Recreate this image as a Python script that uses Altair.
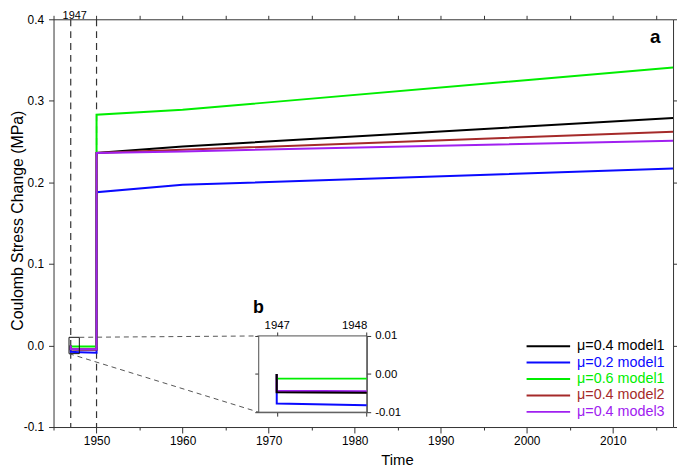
import altair as alt
import pandas as pd

# ---------------- data ----------------
series_names = ["μ=0.4 model1", "μ=0.2 model1", "μ=0.6 model1", "μ=0.4 model2", "μ=0.4 model3"]
series_colors = ["#000000", "#0a0aff", "#00ee00", "#a52a2a", "#a020f0"]
years = [1947, 1947, 1948, 1950, 1950, 1960, 2017]
black = [0.0, -0.0048, -0.0049, -0.0050, 0.236, 0.244, 0.279]
blue = [0.0, -0.0077, -0.0082, -0.0090, 0.188, 0.197, 0.217]
green = [0.0, -0.0012, -0.0012, -0.0013, 0.283, 0.289, 0.341]
brown = [0.0, -0.0047, -0.0048, -0.0049, 0.236, 0.240, 0.262]
purple = [0.0, -0.0044, -0.0045, -0.0046, 0.236, 0.238, 0.251]
marker_years = [1947, 1950]
x_ticks = list(range(1945, 2020, 5))
y_ticks = [-0.1, 0.0, 0.1, 0.2, 0.3, 0.4]
inset_x_ticks = [1947, 1948]
inset_y_ticks = [-0.01, 0.0, 0.01]
zoom_box_x = [1946.8, 1948.0]
zoom_box_y = [-0.01, 0.01]

# ---------------- layout ----------------
X_DOMAIN = [1945, 2017]
Y_DOMAIN = [-0.1, 0.4]
W, H = 626, 412
INSET_X = [1968.85, 1981.4]      # inset placement in main data coords
INSET_Y = [-0.0818, 0.0117]


def px(v):
    return (v - X_DOMAIN[0]) / (X_DOMAIN[1] - X_DOMAIN[0]) * W


def py(v):
    return (Y_DOMAIN[1] - v) / (Y_DOMAIN[1] - Y_DOMAIN[0]) * H


rows = []
for name, vals in zip(series_names, [black, blue, green, brown, purple]):
    for i, (yr, v) in enumerate(zip(years, vals)):
        rows.append({"series": name, "year": yr, "value": v, "idx": i})
df = pd.DataFrame(rows)

AX = "#333333"
neg_fmt1 = "datum.value < 0 ? '-' + format(-datum.value, '.1f') : format(datum.value, '.1f')"
neg_fmt2 = "datum.value < 0 ? '-' + format(-datum.value, '.2f') : format(datum.value, '.2f')"

xs = alt.Scale(domain=X_DOMAIN, nice=False, zero=False)
ys = alt.Scale(domain=Y_DOMAIN, nice=False, zero=False)
color = alt.Color("series:N", scale=alt.Scale(domain=series_names, range=series_colors), legend=None)

bottom_axis = alt.Axis(
    orient="bottom", values=x_ticks, format="d",
    labelExpr="datum.value % 10 === 0 ? datum.label : ''",
    tickSize={"condition": {"test": "datum.value % 10 === 0", "value": 6}, "value": 3},
    labelPadding=3, labelFontSize=12, title="Time", titleFontSize=15,
    titleX=347, titleY=37.5, titleBaseline="alphabetic", titleAlign="center",
)
left_axis = alt.Axis(
    orient="left", values=y_ticks, labelExpr=neg_fmt1, tickSize=5, labelPadding=5,
    labelFontSize=12, title="Coulomb Stress Change (MPa)", titleFontSize=16,
    titleAngle=270, titleX=-31, titleY=203, titleBaseline="alphabetic", titleAlign="center",
)
top_axis = alt.Axis(orient="top", values=x_ticks, labels=False, tickSize=4, title=None)
right_axis = alt.Axis(orient="right", values=y_ticks, labels=False, tickSize=5, title=None)

lines = alt.Chart(df).mark_line(strokeWidth=2).encode(
    x=alt.X("year:Q", scale=xs, axis=bottom_axis),
    y=alt.Y("value:Q", scale=ys, axis=left_axis),
    color=color,
    order="idx:Q",
)

markers = alt.Chart(pd.DataFrame({"year": marker_years})).mark_rule(
    strokeDash=[7, 5], color=AX, strokeWidth=1.2
).encode(x=alt.X("year:Q", scale=xs, axis=top_axis))

box_df = pd.DataFrame({"x0": [zoom_box_x[0]], "x1": [zoom_box_x[1]],
                       "y0": [zoom_box_y[0]], "y1": [zoom_box_y[1]]})

zoom_box = alt.Chart(box_df).mark_rect(fillOpacity=0, stroke="#111", strokeWidth=1).encode(
    x=alt.X("x0:Q", scale=xs, axis=None), x2="x1",
    y=alt.Y("y0:Q", scale=ys, axis=right_axis), y2="y1",
)

conn_df = pd.DataFrame({
    "x": [zoom_box_x[1], zoom_box_x[0]],
    "y": [zoom_box_y[1], zoom_box_y[0]],
    "x2": [INSET_X[0], INSET_X[0]],
    "y2": [INSET_Y[1], INSET_Y[0]],
})
connectors = alt.Chart(conn_df).mark_rule(strokeDash=[5, 4], color="#555", strokeWidth=1).encode(
    x=alt.X("x:Q", scale=xs, axis=None), x2="x2",
    y=alt.Y("y:Q", scale=ys, axis=None), y2="y2",
)

top_label = alt.Chart(pd.DataFrame({"year": [marker_years[0]], "t": [str(marker_years[0])]})).mark_text(
    dx=4, fontSize=11, baseline="alphabetic", color="#000"
).encode(x=alt.X("year:Q", scale=xs, axis=None), y=alt.value(-0.5), text="t:N")

panel_a = alt.Chart(pd.DataFrame({"t": ["a"]})).mark_text(
    fontSize=19, fontWeight="bold", baseline="alphabetic", align="center", color="#000"
).encode(x=alt.value(608), y=alt.value(23.7), text="t:N")

main = alt.layer(markers, lines, zoom_box, connectors, top_label, panel_a)

# ---------------- inset ----------------
ixs = alt.Scale(domain=zoom_box_x, range=[px(INSET_X[0]), px(INSET_X[1])], nice=False, zero=False)
iys = alt.Scale(domain=zoom_box_y, range=[py(INSET_Y[0]), py(INSET_Y[1])], nice=False, zero=False)

in_top = alt.Axis(orient="top", values=inset_x_ticks, format="d", offset=-py(INSET_Y[1]),
                  tickSize=4, labelFontSize=11.5, labelPadding=2, title=None)
in_right = alt.Axis(orient="right", values=inset_y_ticks, labelExpr=neg_fmt2,
                    offset=px(INSET_X[1]) - W, tickSize=4, labelFontSize=11.5, labelPadding=4, title=None)
in_bottom = alt.Axis(orient="bottom", values=inset_x_ticks, labels=False,
                     offset=py(INSET_Y[0]) - H, tickSize=4, title=None)
in_left = alt.Axis(orient="left", values=inset_y_ticks, labels=False,
                   offset=-px(INSET_X[0]), tickSize=4, title=None)

inset_bg = alt.Chart(box_df).mark_rect(fill="white", stroke="#555", strokeWidth=1).encode(
    x=alt.X("x0:Q", scale=ixs, axis=in_bottom), x2="x1",
    y=alt.Y("y0:Q", scale=iys, axis=in_left), y2="y1",
)

inset_df = df[df["year"] <= zoom_box_x[1]]
inset_lines = alt.Chart(inset_df[inset_df["series"] != series_names[0]]).mark_line(strokeWidth=2).encode(
    x=alt.X("year:Q", scale=ixs, axis=in_top),
    y=alt.Y("value:Q", scale=iys, axis=in_right),
    color=color,
    order="idx:Q",
)
inset_black = alt.Chart(inset_df[inset_df["series"] == series_names[0]]).mark_line(strokeWidth=2).encode(
    x=alt.X("year:Q", scale=ixs, axis=None),
    y=alt.Y("value:Q", scale=iys, axis=None),
    color=color,
    order="idx:Q",
)
panel_b = alt.Chart(pd.DataFrame({"t": ["b"]})).mark_text(
    fontSize=18, fontWeight="bold", baseline="alphabetic", align="center", color="#000"
).encode(x=alt.value(207), y=alt.value(296.3), text="t:N")

inset = alt.layer(inset_bg, inset_lines, inset_black, panel_b)

# ---------------- legend ----------------
leg_df = pd.DataFrame({"series": series_names})
leg_y = alt.Y("series:N", scale=alt.Scale(type="point", domain=series_names, range=[330.3, 396.7], padding=0), axis=None)
leg_lines = alt.Chart(leg_df).mark_rule(strokeWidth=2).encode(
    x=alt.value(478), x2=alt.value(522), y=leg_y, color=color
)
leg_text = alt.Chart(leg_df).mark_text(align="left", baseline="middle", fontSize=14.5).encode(
    x=alt.value(529), y=leg_y, text="series:N", color=color
)
legend = alt.layer(leg_lines, leg_text)

chart = (
    alt.layer(main, inset, legend)
    .resolve_scale(x="independent", y="independent")
    .properties(width=W, height=H, autosize="none",
                padding={"left": 46, "top": 9, "right": 4, "bottom": 39})
    .configure(font="Liberation Sans")
    .configure_view(stroke=None)
    .configure_axis(domainColor=AX, tickColor=AX, labelColor="#000", titleColor="#000",
                    grid=False, titleFontWeight="normal", domainWidth=1, tickWidth=1)
)

chart.save("out.html", embed_options={"renderer": "svg", "actions": False})
